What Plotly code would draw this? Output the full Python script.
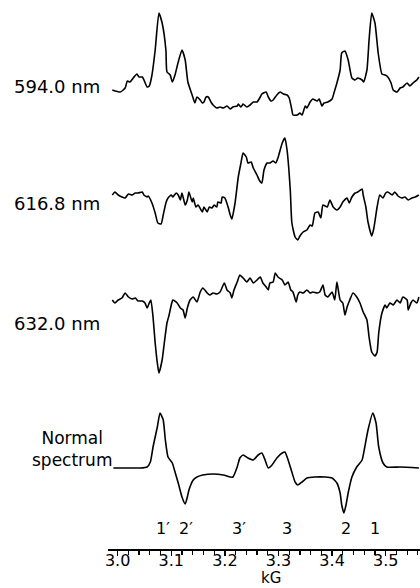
import plotly.graph_objects as go

# ---------------- data (field in kG, signal in arbitrary units relative to baseline) -------------
field_594 = [2.990, 3.005, 3.014, 3.018, 3.023, 3.029, 3.036, 3.040, 3.046, 3.049, 3.055, 3.059, 3.064,
             3.070, 3.077, 3.083, 3.090, 3.092, 3.098, 3.102, 3.107, 3.113, 3.120, 3.126, 3.131, 3.139,
             3.144, 3.148, 3.154, 3.158, 3.161, 3.165, 3.169, 3.174, 3.178, 3.185, 3.191, 3.197, 3.204,
             3.210, 3.215, 3.223, 3.225, 3.230, 3.234, 3.241, 3.247, 3.253, 3.260, 3.266, 3.269, 3.277,
             3.281, 3.286, 3.290, 3.297, 3.303, 3.309, 3.316, 3.320, 3.325, 3.327, 3.335, 3.340, 3.344,
             3.350, 3.353, 3.359, 3.364, 3.372, 3.376, 3.381, 3.385, 3.392, 3.400, 3.404, 3.409, 3.415,
             3.418, 3.424, 3.430, 3.437, 3.443, 3.448, 3.456, 3.459, 3.465, 3.469, 3.474, 3.480, 3.486,
             3.493, 3.499, 3.504, 3.510, 3.514, 3.521, 3.527, 3.532, 3.540, 3.545, 3.551, 3.558, 3.562]
signal_594 = [0, -2, 2, 9, 8, 12, 16, 13, 13, 10, 3, 4, 15,
              40, 77, 67, 40, 18, 15, 8, 15, 28, 40, 30, 8, -5,
              -13, -7, -10, -13, -12, -7, -7, -12, -15, -18, -17, -18, -16,
              -19, -17, -16, -14, -17, -14, -17, -15, -12, -12, -7, -4, -2,
              -7, -11, -10, -5, -2, -4, -5, -8, -20, -25, -25, -23, -25,
              -16, -18, -12, -9, -11, -9, -16, -13, -12, -9, -2, 7, 20,
              37, 39, 30, 12, 10, 12, 10, 8, 20, 50, 77, 67, 37,
              16, 15, 13, 7, 0, -2, 2, 3, 7, 4, 7, 10, 13]

field_616 = [2.990, 2.995, 3.001, 3.008, 3.014, 3.020, 3.027, 3.033, 3.038, 3.046, 3.049, 3.055, 3.057,
             3.064, 3.070, 3.075, 3.081, 3.085, 3.090, 3.094, 3.100, 3.103, 3.109, 3.113, 3.117, 3.120,
             3.126, 3.130, 3.133, 3.139, 3.141, 3.146, 3.150, 3.158, 3.161, 3.167, 3.171, 3.176, 3.180,
             3.185, 3.187, 3.193, 3.195, 3.200, 3.206, 3.210, 3.213, 3.219, 3.225, 3.230, 3.234, 3.240,
             3.243, 3.249, 3.253, 3.260, 3.264, 3.269, 3.273, 3.279, 3.284, 3.290, 3.295, 3.299, 3.307,
             3.312, 3.316, 3.322, 3.325, 3.331, 3.336, 3.340, 3.346, 3.353, 3.359, 3.363, 3.368, 3.374,
             3.379, 3.383, 3.391, 3.396, 3.402, 3.409, 3.415, 3.420, 3.428, 3.432, 3.437, 3.443, 3.448,
             3.456, 3.458, 3.463, 3.467, 3.474, 3.478, 3.484, 3.489, 3.495, 3.500, 3.504, 3.512, 3.517,
             3.523, 3.530, 3.536, 3.542, 3.549, 3.555, 3.562]
signal_616 = [0, 3, 0, -2, -3, 1, 0, 2, 2, 3, 0, -2, -1,
              -8, -18, -28, -29, -20, -8, -3, 0, -2, 2, 0, -5, 2,
              -10, -5, 3, -7, -3, -12, -10, -17, -12, -17, -12, -13, -10,
              -12, -7, -8, -2, -3, -12, -20, -24, -8, 18, 32, 42, 38,
              32, 33, 27, 20, 15, 12, 25, 32, 32, 34, 32, 37, 52,
              57, 45, 5, -28, -42, -45, -41, -37, -35, -30, -31, -18, -17,
              -23, -10, -12, -5, -12, -15, -12, -7, -3, -8, -2, 2, 3,
              6, 0, -12, -27, -41, -33, -12, 0, -3, 2, 3, 0, 3,
              -1, -3, -2, -5, -3, -2, 0]

field_632 = [2.990, 2.995, 3.001, 3.008, 3.014, 3.020, 3.027, 3.033, 3.038, 3.046, 3.051, 3.055, 3.059,
             3.062, 3.066, 3.070, 3.074, 3.077, 3.083, 3.087, 3.092, 3.096, 3.100, 3.103, 3.111, 3.117,
             3.122, 3.126, 3.130, 3.135, 3.141, 3.148, 3.154, 3.159, 3.167, 3.172, 3.178, 3.185, 3.191,
             3.199, 3.204, 3.210, 3.213, 3.217, 3.223, 3.228, 3.234, 3.241, 3.247, 3.253, 3.260, 3.266,
             3.271, 3.277, 3.281, 3.284, 3.290, 3.294, 3.299, 3.307, 3.312, 3.318, 3.323, 3.327, 3.333,
             3.336, 3.340, 3.346, 3.353, 3.359, 3.364, 3.372, 3.377, 3.383, 3.387, 3.392, 3.400, 3.405,
             3.409, 3.415, 3.420, 3.424, 3.428, 3.433, 3.439, 3.446, 3.452, 3.458, 3.465, 3.469, 3.474,
             3.480, 3.484, 3.487, 3.493, 3.499, 3.502, 3.508, 3.514, 3.521, 3.527, 3.532, 3.540, 3.542,
             3.547, 3.551, 3.558, 3.562]
signal_632 = [0, -3, 0, 2, 7, 3, 1, 2, -1, -1, -3, -8, -3,
              0, -17, -43, -63, -73, -60, -43, -23, -15, -5, 0, -3, -8,
              -10, -18, -8, 0, 3, -2, 8, 12, 7, 5, 7, 6, 8,
              17, 10, 7, 2, 10, 18, 25, 22, 18, 22, 17, 20, 23,
              17, 13, 10, 17, 18, 27, 23, 20, 15, 18, 10, 8, -2,
              5, 8, 7, 10, 7, 8, 7, 8, 15, 5, 3, 8, 0,
              18, 0, -3, -15, -7, 0, 7, 3, -3, -12, -20, -37, -52,
              -56, -52, -33, -13, -5, -8, -3, -5, 0, -3, 3, 0, -10,
              -3, 0, -3, 3]

field_normal = [2.992, 3.018, 3.042, 3.055, 3.061, 3.066, 3.074, 3.079, 3.085, 3.089, 3.094, 3.102, 3.107,
                3.113, 3.120, 3.126, 3.130, 3.133, 3.141, 3.148, 3.159, 3.178, 3.197, 3.210, 3.215, 3.223,
                3.228, 3.234, 3.243, 3.253, 3.262, 3.269, 3.275, 3.281, 3.288, 3.297, 3.307, 3.312, 3.318,
                3.325, 3.331, 3.336, 3.344, 3.353, 3.368, 3.387, 3.400, 3.409, 3.415, 3.418, 3.422, 3.426,
                3.430, 3.437, 3.446, 3.456, 3.461, 3.467, 3.476, 3.482, 3.487, 3.495, 3.502, 3.527, 3.562]
signal_normal = [0, 0, 0, 1, 6, 21, 41, 55, 48, 28, 11, 5, -4,
                 -15, -29, -36, -29, -22, -12, -9, -7, -6, -7, -9, -9, 1,
                 10, 13, 10, 8, 13, 15, 8, 0, 3, 10, 15, 16, 8,
                 -4, -14, -17, -14, -10, -9, -9, -10, -15, -25, -37, -45, -37,
                 -25, -9, 1, 8, 21, 38, 55, 45, 21, 5, 1, 1, 0]

trace_labels = ["594.0 nm", "616.8 nm", "632.0 nm", "Normal<br>spectrum"]
peak_labels = ["1\u2032", "2\u2032", "3\u2032", "3", "2", "1"]
peak_fields = [3.085, 3.128, 3.226, 3.316, 3.426, 3.480]
tick_values = [3.0, 3.1, 3.2, 3.3, 3.4, 3.5]
tick_text = ["3.0", "3.1", "3.2", "3.3", "3.4", "3.5"]

# ---------------- layout constants -------------
offsets = [459, 354, 249, 81]          # vertical stacking of the traces
label_y = [463, 346, 226, 100]
FONT = "DejaVu Sans"

series = [(field_594, signal_594), (field_616, signal_616),
          (field_632, signal_632), (field_normal, signal_normal)]

fig = go.Figure()
for (fx, sy), off in zip(series, offsets):
    fig.add_trace(go.Scatter(x=fx, y=[v + off for v in sy], mode="lines",
                             line=dict(color="black", width=1.6, shape="spline", smoothing=0.5),
                             showlegend=False, hoverinfo="skip", cliponaxis=True))

for i, (txt, ly) in enumerate(zip(trace_labels, label_y)):
    if i < 3:
        fig.add_annotation(x=-0.019, xref="paper", y=ly, yref="y", text=txt, showarrow=False,
                           xanchor="right", yanchor="middle", font=dict(family=FONT, size=18, color="black"))
    else:
        fig.add_annotation(x=-0.1154, xref="paper", y=ly, yref="y", text=txt, showarrow=False,
                           xanchor="center", yanchor="middle", align="center",
                           font=dict(family=FONT, size=17, color="black"))

for txt, fx in zip(peak_labels, peak_fields):
    fig.add_annotation(x=fx, y=21, xref="x", yref="y", text=txt, showarrow=False,
                       xanchor="center", yanchor="middle", font=dict(family=FONT, size=16, color="black"))

fig.add_annotation(x=3.2855, y=-0.0710, xref="x", yref="paper", text="kG", showarrow=False,
                   xanchor="center", yanchor="bottom", borderpad=0,
                   font=dict(family=FONT, size=15, color="black"))

fig.update_layout(
    width=420, height=588,
    margin=dict(l=108, r=0, t=0, b=39),
    paper_bgcolor="white", plot_bgcolor="white",
    xaxis=dict(range=[2.982, 3.564], showgrid=False, zeroline=False,
               showline=True, linecolor="black", linewidth=1.5,
               ticks="outside", ticklen=5, tickwidth=1.5, tickcolor="black",
               tickvals=tick_values, ticktext=tick_text, ticklabelstandoff=-9,
               tickfont=dict(family=FONT, size=16, color="black"),
               minor=dict(dtick=0.02, tick0=3.0, ticks="outside", ticklen=4,
                          tickwidth=1.2, tickcolor="black", showgrid=False)),
    yaxis=dict(range=[0, 549], visible=False, fixedrange=True),
)

fig.write_html("out.html", config={"displayModeBar": False, "staticPlot": True},
               post_script="document.body.style.margin='0';document.body.style.overflow='hidden';")
